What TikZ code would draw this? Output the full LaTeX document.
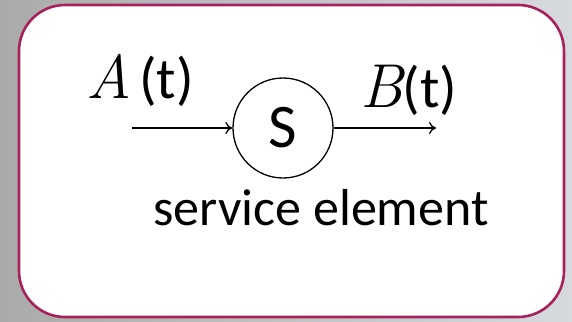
\documentclass[tikz,border=0pt]{standalone}
\usepackage{fontspec}
\setmainfont{Carlito}
\newfontfamily\lmfont{Latin Modern Roman}
\usepackage{tikz}
\usetikzlibrary{arrows.meta, positioning}
\definecolor{framemag}{RGB}{168, 32, 92}
\definecolor{bgdark}{RGB}{170, 170, 170}
\definecolor{bglight}{RGB}{214, 218, 222}

\newcommand{\mathlbl}[1]{{\lmfont\itshape\fontsize{62}{62}\selectfont #1}}

\begin{document}
\begin{tikzpicture}[x=1pt, y=-1pt,
    flow/.style={line width=1.3pt, -{To[length=7pt, width=12pt]}},
    srvnode/.style={circle, draw, line width=1.3pt, minimum size=100pt, inner sep=0pt, font=\fontsize{62}{62}\selectfont},
    sig/.style={anchor=base west, inner sep=0pt, font=\fontsize{58}{58}\selectfont}]
  % background and frame
  \shade[left color=bgdark, right color=bglight] (0, 0) rectangle (572, 321);
  \useasboundingbox (0, 0) rectangle (572, 321);
  \draw[framemag, line width=2.6pt, fill=white, rounded corners=46pt] (19, 5) rectangle (564, 317);

  % service element
  \node[srvnode] (srv) at (283, 128) {S};
  \coordinate (src) at (132, 128);
  \coordinate (snk) at (436, 128);
  \draw[flow] (src) -- (srv.west);
  \draw[flow] (srv.east) -- (snk);

  % labels
  \node[sig] (arr) at (86, 98) {\mathlbl{A}\hspace{8pt}(t)};
  \node[sig] (dep) at (360, 107) {\mathlbl{B}(t)};
  \node[anchor=base, inner sep=0pt, font=\fontsize{52}{52}\selectfont] (name) at (321, 225) {service element};
\end{tikzpicture}
\end{document}
